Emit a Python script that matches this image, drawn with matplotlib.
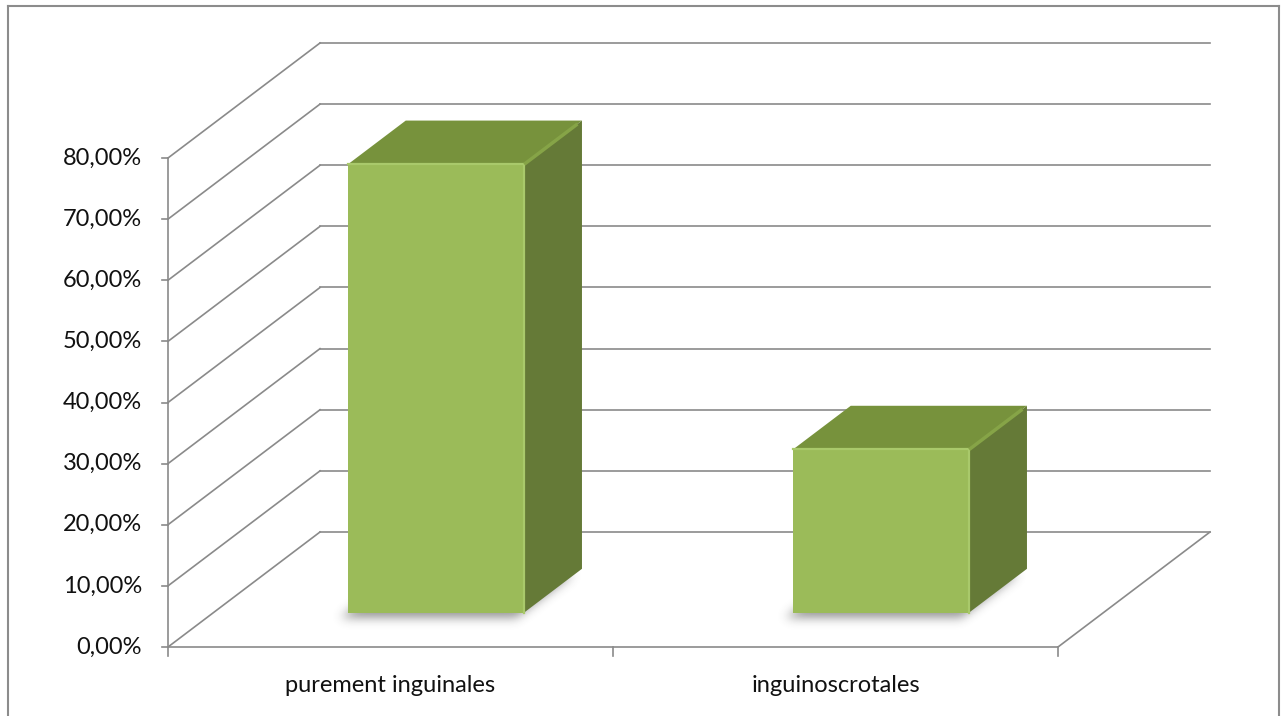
import numpy as np
import matplotlib
matplotlib.use("Agg")
import matplotlib.pyplot as plt
from matplotlib.patches import Polygon
from matplotlib.lines import Line2D
from matplotlib.path import Path

plt.rcParams['font.family'] = ['Lato', 'DejaVu Sans']

categories = ["purement inguinales", "inguinoscrotales"]
values = [73.33, 26.67]          # percent
y_ticks = [0, 10, 20, 30, 40, 50, 60, 70, 80]
y_tick_labels = ["0,00%", "10,00%", "20,00%", "30,00%", "40,00%",
                 "50,00%", "60,00%", "70,00%", "80,00%"]

# pixel layout of the front plane
W, H = 1285, 716
X0, SX = 168, 445.0          # px of category 0, px per category
Y0, SY = 647, 6.1125         # px of 0 %, px per percent
DEPTH_DX = 152 / SX          # oblique depth shift in category units
DEPTH_DY = 115 / SY          # oblique depth shift in percent units
BAR_W = 0.396
BAR_D0, BAR_D1 = 0.30, 0.68

GRID = "#8a8a8a"
FRONT = "#9bbb59"
TOP = "#77923c"
SIDE = "#657a37"
FS = 17


def proj(c, v, d):
    return c + d * DEPTH_DX, v + d * DEPTH_DY


fig = plt.figure(figsize=(W / 100, H / 100), dpi=100)
ax = fig.add_axes([0, 0, 1, 1])
ax.set_xlim(-X0 / SX, (W - X0) / SX)
ax.set_ylim(-(H - Y0) / SY, Y0 / SY)
ax.axis("off")

# outer chart frame
for xs, ys in [((8, 8), (6, H)), ((8, 1279), (6, 6)), ((1279, 1279), (6, H))]:
    fig.add_artist(Line2D([x / W for x in xs], [1 - y / H for y in ys],
                          color="#8c8c8c", lw=1.5, transform=fig.transFigure))

# walls: back gridlines and left wall diagonals
for v in y_ticks:
    p0 = proj(0, v, 1)
    p1 = proj(2, v, 1)
    ax.plot([p0[0], p1[0]], [p0[1], p1[1]], color=GRID, lw=1.2, zorder=1)
    q0 = proj(0, v, 0)
    ax.plot([q0[0], p0[0]], [q0[1], p0[1]], color=GRID, lw=1.2, zorder=1)

# floor edges and axes
f1 = proj(2, 0, 1)
ax.plot([0, 2, f1[0]], [0, 0, f1[1]], color=GRID, lw=1.2, zorder=1)
ax.plot([0, 0], [0, 80], color=GRID, lw=1.2, zorder=1)

tick_dx = 6 / SX
tick_dy = 9 / SY
for v, lab in zip(y_ticks, y_tick_labels):
    ax.plot([-tick_dx, 0], [v, v], color=GRID, lw=1.2, zorder=1)
    ax.text(-26 / SX, v, lab, ha="right", va="center", fontsize=FS,
            color="#111111")
for c in range(len(categories) + 1):
    ax.plot([c, c], [0, -tick_dy], color=GRID, lw=1.2, zorder=1)
for i, lab in enumerate(categories):
    ax.text(i + 0.5, -38 / SY, lab, ha="center", va="center", fontsize=FS,
            color="#111111")


def bar_shadow(cl, cr):
    # soft blurred shadow of the bar footprint on the floor
    foot = [proj(cl, 0, BAR_D0), proj(cr, 0, BAR_D0),
            proj(cr, 0, BAR_D1), proj(cl, 0, BAR_D1)]
    sx, sy = -8 / SX, -6 / SY
    foot = [(x + sx, y + sy) for x, y in foot]
    xa = min(p[0] for p in foot) - 30 / SX
    xb = max(p[0] for p in foot) + 30 / SX
    ya = min(p[1] for p in foot) - 25 / SY
    yb = max(p[1] for p in foot) + 25 / SY
    nx = int((xb - xa) * SX)
    ny = int((yb - ya) * SY)
    gx, gy = np.meshgrid(np.linspace(xa, xb, nx), np.linspace(ya, yb, ny))
    mask = Path(foot).contains_points(
        np.column_stack([gx.ravel(), gy.ravel()])).reshape(ny, nx).astype(float)
    k = np.exp(-0.5 * (np.arange(-15, 16) / 5.0) ** 2)
    k /= k.sum()
    mask = np.apply_along_axis(lambda r: np.convolve(r, k, mode="same"), 1, mask)
    mask = np.apply_along_axis(lambda r: np.convolve(r, k, mode="same"), 0, mask)
    rgba = np.zeros((ny, nx, 4))
    rgba[..., :3] = 0.25
    rgba[..., 3] = mask * 0.55
    ax.imshow(rgba, extent=[xa, xb, ya, yb], origin="lower", aspect="auto",
              interpolation="bilinear", zorder=2)


for i, v in enumerate(values):
    cl = i + 0.5 - BAR_W / 2
    cr = i + 0.5 + BAR_W / 2
    bar_shadow(cl, cr)
    front = [proj(cl, 0, BAR_D0), proj(cr, 0, BAR_D0),
             proj(cr, v, BAR_D0), proj(cl, v, BAR_D0)]
    top = [proj(cl, v, BAR_D0), proj(cr, v, BAR_D0),
           proj(cr, v, BAR_D1), proj(cl, v, BAR_D1)]
    side = [proj(cr, 0, BAR_D0), proj(cr, 0, BAR_D1),
            proj(cr, v, BAR_D1), proj(cr, v, BAR_D0)]
    ax.add_patch(Polygon(side, closed=True, fc=SIDE, ec="none", zorder=3))
    ax.add_patch(Polygon(top, closed=True, fc=TOP, ec="none", zorder=3))
    ax.add_patch(Polygon(front, closed=True, fc=FRONT, ec="none", zorder=4))
    # light bevel edges
    ax.plot([front[3][0], front[2][0], front[1][0]],
            [front[3][1], front[2][1], front[1][1]],
            color="#a9c96b", lw=1.6, zorder=5)
    e0, e1 = proj(cr, v, BAR_D0), proj(cr, v, BAR_D1 - 0.03)
    ax.plot([e0[0], e1[0]], [e0[1], e1[1]], color="#86a447", lw=2.5,
            solid_capstyle="butt", zorder=5)

fig.savefig("out.png", dpi=100, facecolor="white")
